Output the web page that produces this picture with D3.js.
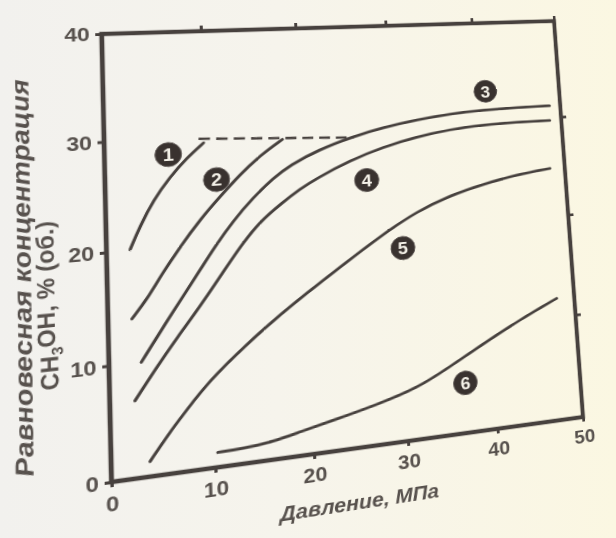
<!DOCTYPE html>
<html lang="ru">
<head>
<meta charset="UTF-8">
<title>Равновесная концентрация CH3OH</title>
<style>
  html, body { margin: 0; padding: 0; }
  body {
    width: 616px; height: 538px; overflow: hidden; position: relative;
    background: linear-gradient(90deg, #f2f1ee 0%, #f6f4ec 45%, #fbf7e2 100%);
  }
  #chart { position: absolute; left: 0; top: 0; transform-origin: 0 0; overflow: visible; }
</style>
</head>
<body>
<svg id="chart" width="616" height="538"></svg>
<script src="https://cdn.jsdelivr.net/npm/d3@7/dist/d3.min.js"></script>
<script>
// ---- data (pressure, MPa -> equilibrium CH3OH, % vol.) ----
const xTicks = [0, 10, 20, 30, 40, 50];
const yTicks = [0, 10, 20, 30, 40];

const curve1 = [[2.3,20.1],[3.3,22.1],[4.7,24.4],[6.4,26.4],[8.1,28.05],[9.9,29.4]];
const curve2 = [[2.3,13.9],[3.8,15.5],[5.3,17.6],[7.2,19.95],[9.3,22.3],[11.4,24.3],[13.5,26.2],[15.7,27.9],[18.1,29.3]];
const curve3 = [[3.1,10.0],[5.7,13.4],[7.7,15.9],[9.2,17.8],[10.6,19.6],[12.7,22.0],[14.7,23.9],[17.0,25.7],[18.8,26.8],[21.9,28.1],[25.8,29.2],[29.1,29.9],[33.0,30.5],[36.8,30.9],[40.7,31.1],[44.7,31.2],[48.7,31.2]];
const curve4 = [[2.4,6.7],[4.4,9.2],[6.7,11.9],[9.2,14.6],[13.3,19.6],[15.4,21.7],[17.8,23.3],[19.7,24.45],[21.6,25.4],[25.3,26.9],[29.0,28.0],[32.8,28.8],[36.7,29.35],[40.6,29.6],[44.6,29.7],[48.6,29.7]];
const curve5 = [[3.7,1.3],[5.35,3.25],[7.4,5.4],[9.8,7.75],[12.9,10.1],[16.4,12.5],[20.0,14.7],[23.6,16.8],[28.5,19.6],[32.4,21.5],[36.2,22.8],[40.2,23.7],[44.2,24.4],[48.2,24.8]];
const curve6 = [[10.3,1.3],[12.8,1.35],[15.9,1.6],[18.65,2.15],[22.2,2.8],[26.8,3.7],[31.3,4.75],[35.1,6.4],[39.0,8.2],[43.4,10.1],[47.9,11.8]];
const limitLine = [[9.4,29.8],[25.8,29.1]];   // dashed

const curveNames = ["1", "2", "3", "4", "5", "6"];
const curves = [curve1, curve2, curve3, curve4, curve5, curve6];
const labelX = [6.3, 11.1, 41.1, 27.0, 30.6, 36.7];
const labelY = [28.5, 25.9, 33.0, 24.9, 18.1, 4.7];

// ---- flat layout ----
const plot = { left: 110, right: 580, top: 30, bottom: 480 };
const ink = "#47413e", textInk = "#57514d";
const font = "'Liberation Sans', Arial, sans-serif";

const svg = d3.select("#chart");
const x = d3.scaleLinear().domain([0, 50]).range([plot.left, plot.right]);
const y = d3.scaleLinear().domain([0, 40]).range([plot.bottom, plot.top]);

// the scan is photographed at an angle: map the flat frame onto the page quad
const quad = [[101.7, 34], [554, 21], [583, 417], [111.5, 482]];
const flat = [[plot.left, plot.top], [plot.right, plot.top], [plot.right, plot.bottom], [plot.left, plot.bottom]];

function solve(A, b) {
  const n = b.length;
  const M = A.map((r, i) => r.concat([b[i]]));
  for (let c = 0; c < n; c++) {
    let p = c;
    for (let r = c + 1; r < n; r++) if (Math.abs(M[r][c]) > Math.abs(M[p][c])) p = r;
    [M[c], M[p]] = [M[p], M[c]];
    for (let r = 0; r < n; r++) {
      if (r === c) continue;
      const f = M[r][c] / M[c][c];
      for (let k = c; k <= n; k++) M[r][k] -= f * M[c][k];
    }
  }
  return M.map((r, i) => r[n] / r[i]);
}
const A = [], b = [];
flat.forEach(([sx, sy], i) => {
  const [dx, dy] = quad[i];
  A.push([sx, sy, 1, 0, 0, 0, -sx * dx, -sy * dx]); b.push(dx);
  A.push([0, 0, 0, sx, sy, 1, -sx * dy, -sy * dy]); b.push(dy);
});
const h = solve(A, b);
svg.style("transform",
  `matrix3d(${h[0]},${h[3]},0,${h[6]},${h[1]},${h[4]},0,${h[7]},0,0,1,0,${h[2]},${h[5]},0,1)`);

// page point -> flat point (only used to place the titles)
function toFlat(X, Y) {
  return solve([[h[0] - X * h[6], h[1] - X * h[7]],
                [h[3] - Y * h[6], h[4] - Y * h[7]]],
               [X - h[2], Y - h[5]]);
}

// frame
svg.append("rect")
  .attr("x", plot.left).attr("y", plot.top)
  .attr("width", plot.right - plot.left).attr("height", plot.bottom - plot.top)
  .attr("fill", "none").attr("stroke", ink).attr("stroke-width", 4.5);

function styleAxis(g) {
  g.select(".domain").remove();
  g.selectAll(".tick line").attr("stroke", ink).attr("stroke-width", 3);
  g.selectAll(".tick text")
    .attr("fill", textInk)
    .attr("font-family", font)
    .attr("font-weight", "bold")
    .attr("font-size", 21);
}

svg.append("g").attr("transform", `translate(0,${plot.bottom})`)
  .call(d3.axisBottom(x).tickValues(xTicks).tickSize(5).tickPadding(8).tickFormat(d3.format("d")))
  .call(styleAxis);
svg.append("g").attr("transform", `translate(${plot.left},0)`)
  .call(d3.axisLeft(y).tickValues(yTicks).tickSize(6).tickPadding(5).tickFormat(d3.format("d")))
  .call(styleAxis);
svg.append("g").attr("transform", `translate(0,${plot.top})`)
  .call(d3.axisTop(x).tickValues(xTicks.slice(1)).tickSize(6).tickFormat(""))
  .call(styleAxis);
svg.append("g").attr("transform", `translate(${plot.right},0)`)
  .call(d3.axisRight(y).tickValues(yTicks.slice(1, -1)).tickSize(6).tickFormat(""))
  .call(styleAxis);

// curves
const line = d3.line().x(d => x(d[0])).y(d => y(d[1])).curve(d3.curveBasis);
svg.append("g").selectAll("path")
  .data(curves)
  .enter()
  .append("path")
    .attr("d", line)
    .attr("fill", "none")
    .attr("stroke", ink)
    .attr("stroke-width", 3)
    .attr("stroke-linecap", "round");

svg.append("path")
  .attr("d", line(limitLine))
  .attr("fill", "none")
  .attr("stroke", ink)
  .attr("stroke-width", 2.6)
  .attr("stroke-dasharray", "11,6");

// circled numbers
const marks = svg.append("g").selectAll("g")
  .data(curveNames)
  .enter()
  .append("g")
    .attr("transform", (d, i) => `translate(${x(labelX[i])},${y(labelY[i])})`);
marks.append("circle").attr("r", 12.5).attr("fill", "#39322f")
  .attr("stroke", "#5a5350").attr("stroke-width", 1);
marks.append("text")
  .attr("text-anchor", "middle").attr("dy", "0.36em")
  .attr("fill", "#f4f1e8")
  .attr("font-family", font)
  .attr("font-weight", "bold").attr("font-size", 19)
  .text(d => d);

// axis titles
const xt = toFlat(361, 502);
svg.append("text")
  .attr("x", xt[0]).attr("y", xt[1])
  .attr("text-anchor", "middle").attr("dy", "0.35em")
  .attr("font-family", font).attr("font-weight", "bold").attr("font-style", "italic")
  .attr("font-size", 21).attr("fill", textInk)
  .attr("textLength", 158).attr("lengthAdjust", "spacingAndGlyphs")
  .text("Давление, МПа");

const y1 = toFlat(22, 274);
svg.append("text")
  .attr("transform", `translate(${y1[0]},${y1[1]}) rotate(-90)`)
  .attr("text-anchor", "middle").attr("dy", "0.35em")
  .attr("font-family", font).attr("font-weight", "bold").attr("font-style", "italic")
  .attr("font-size", 22).attr("fill", textInk)
  .attr("textLength", 390).attr("lengthAdjust", "spacingAndGlyphs")
  .text("Равновесная концентрация");

const y2 = toFlat(48.5, 305);
const t2 = svg.append("text")
  .attr("transform", `translate(${y2[0]},${y2[1]}) rotate(-90)`)
  .attr("text-anchor", "middle").attr("dy", "0.35em")
  .attr("font-family", font).attr("font-weight", "bold")
  .attr("font-size", 22).attr("fill", textInk)
  .attr("textLength", 166).attr("lengthAdjust", "spacingAndGlyphs");
t2.append("tspan").text("CH");
t2.append("tspan").attr("font-size", 14).attr("dy", "0.3em").text("3");
t2.append("tspan").attr("dy", "-0.3em").text("OH, % (об.)");
</script>
</body>
</html>
